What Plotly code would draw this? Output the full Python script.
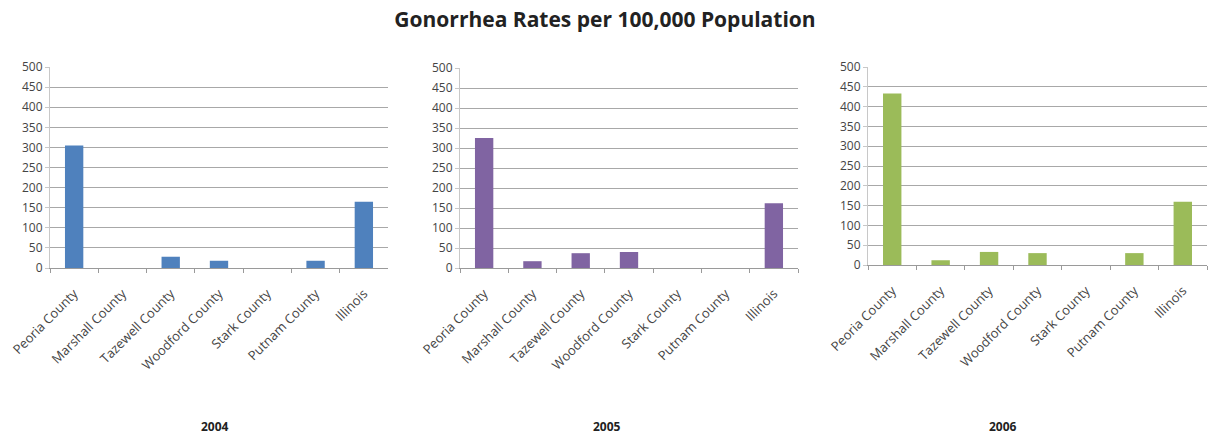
import plotly.graph_objects as go

categories = ["Peoria County", "Marshall County", "Tazewell County", "Woodford County",
              "Stark County", "Putnam County", "Illinois"]
years = ["2004", "2005", "2006"]
rates_2004 = [305, 0, 28, 18, 0, 18, 165]
rates_2005 = [325, 17, 37, 40, 0, 0, 162]
rates_2006 = [433, 12, 33, 30, 0, 30, 160]
colors = ["#4F81BD", "#8064A2", "#9BBB59"]
y_ticks = list(range(0, 501, 50))

W, H = 1209, 441
panels = [  # x px range, y px range (top, bottom)
    ((50, 388), (67, 268)),
    ((460, 798), (68, 268)),
    ((868, 1207), (67, 265)),
]
label_x = [215, 607, 1003]

fig = go.Figure()
font = "Open Sans, Liberation Sans, sans-serif"
for i, (vals, yr) in enumerate(zip([rates_2004, rates_2005, rates_2006], years)):
    xa = "x" if i == 0 else f"x{i+1}"
    ya = "y" if i == 0 else f"y{i+1}"
    fig.add_trace(go.Bar(x=categories, y=vals, marker_color=colors[i],
                         marker_line_width=0, width=0.38,
                         xaxis=xa, yaxis=ya, showlegend=False))
    (x0, x1), (t, b) = panels[i]
    key = "" if i == 0 else str(i + 1)
    fig.update_layout({
        f"xaxis{key}": dict(domain=[x0 / W, x1 / W], anchor=ya, type="category",
                            tickangle=-45, showgrid=False, showline=True,
                            linecolor="#9a9a9a", linewidth=1, ticks="outside",
                            tickson="boundaries", ticklen=4, tickcolor="#9a9a9a",
                            automargin=False, ticklabelstandoff=12,
                            tickfont=dict(family=font, size=13, color="#444")),
        f"yaxis{key}": dict(domain=[1 - b / H, 1 - t / H], anchor=xa, range=[0, 500],
                            tickvals=y_ticks, showgrid=True, gridcolor="#a8a8a8",
                            gridwidth=1, showline=True, linecolor="#c8c8c8",
                            ticks="outside", ticklen=4, tickcolor="#c8c8c8",
                            zeroline=False, automargin=False,
                            tickfont=dict(family=font, size=12, color="#444")),
    })
    fig.add_annotation(text="<b>" + yr + "</b>", x=label_x[i] / W, y=1 - 426 / H,
                       xref="paper", yref="paper", showarrow=False,
                       xanchor="center", yanchor="middle",
                       font=dict(family=font, size=12, color="#222"))

fig.update_layout(
    width=W, height=H, margin=dict(l=0, r=0, t=0, b=0, autoexpand=False),
    paper_bgcolor="white", plot_bgcolor="white", bargap=0.6,
    title=dict(text="<b>Gonorrhea Rates per 100,000 Population</b>",
               x=605 / W, xanchor="center", y=1 - 20 / H, yanchor="middle",
               automargin=False,
               font=dict(family="Liberation Sans Narrow, Open Sans, sans-serif",
                         size=21, color="#222")),
)
fig.write_html("out.html")
